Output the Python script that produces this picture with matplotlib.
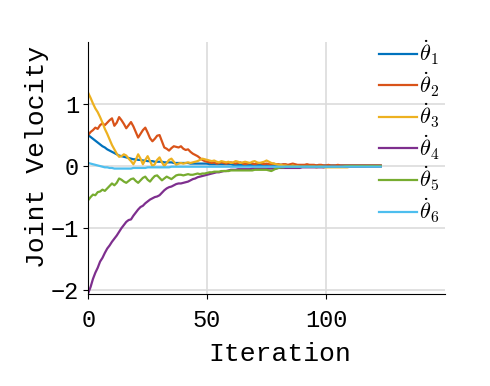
import numpy as np
import matplotlib
matplotlib.use("Agg")
import matplotlib.pyplot as plt

# joint velocities per iteration
theta1 = [0.50, 0.47, 0.44, 0.41, 0.38, 0.35, 0.32, 0.30, 0.27, 0.25,
          0.23, 0.21, 0.19, 0.17, 0.16, 0.15, 0.14, 0.13, 0.12, 0.11,
          0.11, 0.10, 0.10, 0.09, 0.09, 0.08, 0.08, 0.08, 0.07, 0.07,
          0.07, 0.07, 0.06, 0.06, 0.06, 0.06, 0.05, 0.05, 0.05, 0.05,
          0.05, 0.05, 0.05, 0.04, 0.04, 0.04, 0.04, 0.04, 0.04, 0.04,
          0.04, 0.03, 0.03, 0.03, 0.03, 0.03, 0.03, 0.03, 0.03, 0.03,
          0.03, 0.02, 0.02, 0.02, 0.02, 0.02, 0.02, 0.02, 0.02, 0.02,
          0.02, 0.02, 0.02, 0.02, 0.02, 0.02, 0.02, 0.02, 0.02, 0.02,
          0.02, 0.02, 0.02, 0.02, 0.01, 0.01, 0.01, 0.01, 0.01, 0.01,
          0.01, 0.01, 0.01, 0.01, 0.01, 0.01, 0.01, 0.01, 0.01, 0.01,
          0.01, 0.01, 0.01, 0.01, 0.01, 0.01, 0.01, 0.01, 0.01, 0.01,
          0.01, 0.01, 0.01, 0.01, 0.01, 0.01, 0.01, 0.01, 0.01, 0.01,
          0.01, 0.01, 0.01, 0.01]
theta2 = [0.50, 0.55, 0.58, 0.62, 0.60, 0.66, 0.69, 0.66, 0.70, 0.74,
          0.77, 0.65, 0.70, 0.79, 0.74, 0.68, 0.61, 0.66, 0.71, 0.64,
          0.55, 0.46, 0.52, 0.58, 0.62, 0.54, 0.45, 0.40, 0.44, 0.49,
          0.50, 0.40, 0.30, 0.28, 0.25, 0.29, 0.32, 0.31, 0.30, 0.32,
          0.28, 0.26, 0.27, 0.23, 0.20, 0.18, 0.16, 0.13, 0.10, 0.08,
          0.07, 0.06, 0.05, 0.06, 0.04, 0.05, 0.06, 0.05, 0.04, 0.05,
          0.06, 0.05, 0.04, 0.05, 0.06, 0.04, 0.03, 0.04, 0.05, 0.04,
          0.03, 0.04, 0.05, 0.04, 0.03, 0.04, 0.03, 0.03, 0.04, 0.03,
          0.03, 0.02, 0.03, 0.03, 0.02, 0.03, 0.04, 0.03, 0.02, 0.02,
          0.02, 0.02, 0.03, 0.02, 0.02, 0.02, 0.01, 0.02, 0.02, 0.01,
          0.01, 0.02, 0.01, 0.01, 0.01, 0.02, 0.01, 0.01, 0.01, 0.01,
          0.01, 0.01, 0.01, 0.01, 0.01, 0.01, 0.01, 0.01, 0.01, 0.01,
          0.01, 0.01, 0.01, 0.01]
theta3 = [1.18, 1.10, 1.01, 0.93, 0.87, 0.79, 0.70, 0.60, 0.52, 0.43,
          0.34, 0.27, 0.20, 0.15, 0.16, 0.19, 0.17, 0.12, 0.08, 0.03,
          0.10, 0.19, 0.12, 0.03, 0.10, 0.16, 0.08, 0.00, 0.03, 0.10,
          0.14, 0.06, 0.00, 0.05, 0.10, 0.12, 0.07, 0.02, 0.04, 0.05,
          0.04, 0.05, 0.06, 0.05, 0.06, 0.07, 0.08, 0.10, 0.12, 0.11,
          0.10, 0.09, 0.08, 0.09, 0.07, 0.06, 0.08, 0.07, 0.06, 0.07,
          0.05, 0.06, 0.08, 0.07, 0.05, 0.06, 0.07, 0.06, 0.05, 0.07,
          0.08, 0.06, 0.05, 0.06, 0.07, 0.09, 0.07, 0.05, 0.04, 0.03,
          0.02, 0.02, 0.01, 0.01, 0.00, 0.00, 0.01, 0.00, 0.00, -0.01,
          -0.01, -0.01, -0.01, -0.01, -0.01, -0.01, -0.02, -0.01, -0.01, -0.02,
          -0.02, -0.02, -0.02, -0.02, -0.02, -0.02, -0.02, -0.02, -0.02, -0.02,
          -0.01, -0.01, -0.01, -0.01, -0.01, -0.01, -0.01, 0.00, 0.00, 0.00,
          0.00, 0.00, 0.00, 0.00]
theta4 = [-2.05, -1.95, -1.82, -1.72, -1.64, -1.54, -1.48, -1.40, -1.33, -1.28,
          -1.22, -1.17, -1.12, -1.06, -1.00, -0.95, -0.90, -0.87, -0.86, -0.80,
          -0.75, -0.70, -0.66, -0.64, -0.60, -0.57, -0.54, -0.52, -0.50, -0.49,
          -0.47, -0.43, -0.39, -0.36, -0.34, -0.33, -0.31, -0.29, -0.28, -0.28,
          -0.27, -0.26, -0.25, -0.23, -0.21, -0.20, -0.18, -0.17, -0.16, -0.15,
          -0.14, -0.13, -0.12, -0.11, -0.10, -0.10, -0.09, -0.08, -0.08, -0.07,
          -0.06, -0.06, -0.06, -0.05, -0.05, -0.05, -0.05, -0.05, -0.05, -0.04,
          -0.04, -0.04, -0.04, -0.04, -0.04, -0.04, -0.04, -0.04, -0.04, -0.04,
          -0.03, -0.03, -0.03, -0.03, -0.03, -0.03, -0.03, -0.03, -0.03, -0.03,
          -0.02, -0.02, -0.02, -0.02, -0.02, -0.02, -0.02, -0.02, -0.02, -0.02,
          -0.01, -0.01, -0.01, -0.01, -0.01, -0.01, -0.01, -0.01, -0.01, -0.01,
          -0.01, -0.01, -0.01, -0.01, -0.01, -0.01, -0.01, -0.01, -0.01, -0.01,
          -0.01, -0.01, -0.01, -0.01]
theta5 = [-0.55, -0.50, -0.46, -0.47, -0.42, -0.41, -0.38, -0.40, -0.36, -0.32,
          -0.28, -0.31, -0.27, -0.20, -0.22, -0.25, -0.27, -0.24, -0.21, -0.20,
          -0.24, -0.27, -0.23, -0.19, -0.17, -0.22, -0.25, -0.20, -0.16, -0.15,
          -0.19, -0.23, -0.20, -0.17, -0.19, -0.21, -0.18, -0.15, -0.14, -0.14,
          -0.15, -0.14, -0.13, -0.14, -0.14, -0.13, -0.12, -0.13, -0.12, -0.12,
          -0.11, -0.10, -0.10, -0.09, -0.09, -0.09, -0.08, -0.08, -0.08, -0.08,
          -0.07, -0.07, -0.07, -0.07, -0.07, -0.07, -0.07, -0.07, -0.07, -0.07,
          -0.06, -0.06, -0.06, -0.06, -0.06, -0.06, -0.07, -0.08, -0.06, -0.04,
          -0.03, -0.02, -0.02, -0.01, -0.01, -0.01, -0.01, -0.01, -0.01, -0.01,
          -0.01, -0.01, -0.01, -0.01, -0.01, -0.01, -0.01, -0.01, -0.01, -0.01,
          -0.01, -0.01, -0.01, -0.01, -0.01, -0.01, -0.01, -0.01, 0.00, 0.00,
          0.00, 0.00, 0.00, 0.00, 0.00, 0.00, 0.00, 0.00, 0.00, 0.00,
          0.00, 0.00, 0.00, 0.00]
theta6 = [0.05, 0.04, 0.03, 0.02, 0.01, 0.00, -0.01, -0.02, -0.02, -0.03,
          -0.03, -0.04, -0.04, -0.04, -0.04, -0.04, -0.04, -0.04, -0.04, -0.03,
          -0.03, -0.03, -0.03, -0.03, -0.03, -0.02, -0.02, -0.02, -0.02, -0.02,
          -0.02, -0.02, -0.02, -0.02, -0.02, -0.01, -0.01, -0.01, -0.01, -0.01,
          -0.01, -0.01, -0.01, -0.01, -0.01, -0.01, -0.01, -0.01, -0.01, -0.01,
          -0.01, -0.01, -0.01, -0.01, -0.01, -0.01, -0.01, -0.01, -0.01, -0.01,
          -0.01, -0.01, -0.01, -0.01, -0.01, -0.01, -0.01, -0.01, -0.01, -0.01,
          -0.01, -0.01, -0.01, -0.01, -0.01, -0.01, -0.01, -0.01, -0.01, -0.01,
          -0.01, -0.01, -0.01, -0.01, -0.01, -0.01, -0.01, -0.01, -0.01, -0.01,
          -0.01, -0.01, -0.01, -0.01, -0.01, -0.01, -0.01, -0.01, -0.01, -0.01,
          -0.01, -0.01, -0.01, -0.01, -0.01, -0.01, -0.01, -0.01, -0.01, -0.01,
          -0.01, -0.01, -0.01, -0.01, -0.01, -0.01, -0.01, -0.01, -0.01, -0.01,
          -0.01, -0.01, -0.01, -0.01]

series = [theta1, theta2, theta3, theta4, theta5, theta6]
labels = [r"$\dot{\theta}_%d$" % (k + 1) for k in range(6)]
colors = ["#0072BD", "#D95319", "#EDB120", "#7E2F8E", "#77AC30", "#4DBEEE"]

plt.rcParams["font.family"] = "Liberation Mono"
plt.rcParams["mathtext.fontset"] = "cm"

fig = plt.figure(figsize=(4.9, 3.86), dpi=100)
ax = fig.add_axes([0.18, 0.238, 0.728, 0.653])

for vals, lab, col in zip(series, labels, colors):
    it = np.arange(len(vals))
    ax.plot(it, vals, color=col, lw=1.6, label=lab)

ax.set_xlim(0, 150)
ax.set_ylim(-2.065, 2.0)
ax.set_xticks([0, 50, 100])
ax.set_yticks([-2, -1, 0, 1])
ax.grid(True, color="#dcdcdc", lw=1.2)
ax.set_axisbelow(True)
for s in ["top", "right"]:
    ax.spines[s].set_visible(False)
ax.tick_params(direction="out", length=3.5, labelsize=17)
ax.tick_params(axis="x", pad=7)
ax.tick_params(axis="y", pad=3)
ax.set_xlabel("Iteration", fontsize=19)
ax.set_ylabel("Joint Velocity", fontsize=19)
# labels sit slightly off-centre in the original
ax.xaxis.set_label_coords(0.538, -0.19)
ax.yaxis.set_label_coords(-0.11, 0.543)

leg = ax.legend(loc="upper left", bbox_to_anchor=(0.79, 1.05), frameon=False,
                fontsize=16, handlelength=1.7, handletextpad=0.12,
                labelspacing=0.13, borderaxespad=0)

fig.savefig("out.png", dpi=100)
